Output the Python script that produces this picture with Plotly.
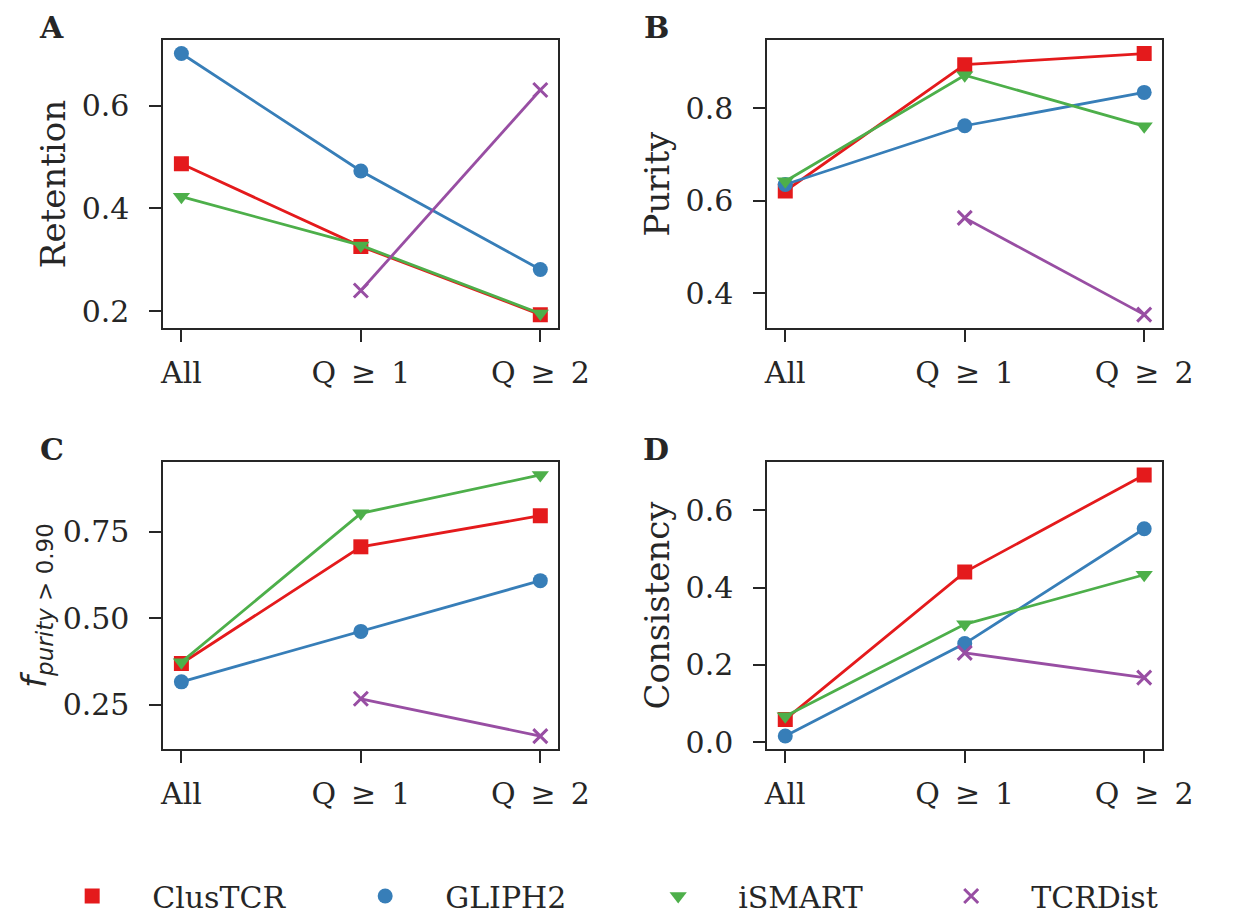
import plotly.graph_objects as go

categories = ["All", "Q\u2002≥\u20021", "Q\u2002≥\u20022"]
methods = ["ClusTCR", "GLIPH2", "iSMART", "TCRDist"]

retention_clustcr = [0.487, 0.326, 0.193]
retention_gliph2 = [0.702, 0.473, 0.281]
retention_ismart = [0.423, 0.328, 0.195]
retention_tcrdist = [None, 0.240, 0.631]

purity_clustcr = [0.621, 0.894, 0.918]
purity_gliph2 = [0.635, 0.762, 0.834]
purity_ismart = [0.642, 0.871, 0.761]
purity_tcrdist = [None, 0.563, 0.354]

fpur_clustcr = [0.369, 0.707, 0.797]
fpur_gliph2 = [0.316, 0.462, 0.609]
fpur_ismart = [0.373, 0.804, 0.915]
fpur_tcrdist = [None, 0.267, 0.159]

cons_clustcr = [0.059, 0.440, 0.691]
cons_gliph2 = [0.016, 0.255, 0.552]
cons_ismart = [0.067, 0.305, 0.433]
cons_tcrdist = [None, 0.231, 0.167]

ticks_A = [0.2, 0.4, 0.6]
ticks_B = [0.4, 0.6, 0.8]
ticks_C = [0.25, 0.50, 0.75]
ticks_D = [0.0, 0.2, 0.4, 0.6]

colors = {"ClusTCR": "#e41a1c", "GLIPH2": "#377eb8", "iSMART": "#4daf4a", "TCRDist": "#984ea3"}
symbols = {"ClusTCR": "square", "GLIPH2": "circle", "iSMART": "triangle-down", "TCRDist": "x-thin"}
sizes = {"ClusTCR": 15, "GLIPH2": 15, "iSMART": 15, "TCRDist": 14}

panels = [
    ("A", "Retention", [retention_clustcr, retention_gliph2, retention_ismart, retention_tcrdist], ticks_A, ".1f"),
    ("B", "Purity", [purity_clustcr, purity_gliph2, purity_ismart, purity_tcrdist], ticks_B, ".1f"),
    ("C", "<i>f</i><sub><span style='font-size:23px'><i>purity</i> > 0.90</span></sub>",
     [fpur_clustcr, fpur_gliph2, fpur_ismart, fpur_tcrdist], ticks_C, ".2f"),
    ("D", "Consistency", [cons_clustcr, cons_gliph2, cons_ismart, cons_tcrdist], ticks_D, ".1f"),
]

W, H = 1233, 922
# pixel boxes (left, right, top, bottom)
boxes = [(165, 571, 41, 332), (786, 1192, 41, 332), (165, 571, 468, 759), (786, 1192, 468, 759)]

FONT = "DejaVu Serif"
TXT = "#262626"
fig = go.Figure()
layout = dict(
    width=W, height=H, margin=dict(l=0, r=0, t=0, b=0),
    paper_bgcolor="white", plot_bgcolor="white",
    font=dict(family=FONT, size=30, color=TXT),
    showlegend=True,
)
annotations = []
xpos = [0, 1, 2]
for i, (lab, ytitle, series, yticks, fmt) in enumerate(panels):
    k = "" if i == 0 else str(i + 1)
    l, r, t, b = boxes[i]
    vals = [v for s in series for v in s if v is not None]
    lo, hi = min(vals), max(vals)
    pad = 0.05 * (hi - lo)
    for m, ys in zip(methods, series):
        fig.add_trace(go.Scatter(
            x=xpos, y=ys, mode="lines+markers", name=m, showlegend=False,
            xaxis="x" + k, yaxis="y" + k,
            line=dict(color=colors[m], width=2.8),
            marker=dict(symbol=symbols[m], size=sizes[m], color=colors[m],
                        line=dict(color=colors[m], width=3 if m == "TCRDist" else 0)),
            connectgaps=False,
        ))
    axis_common = dict(showline=True, linecolor=TXT, linewidth=2, mirror=True,
                       ticks="outside", ticklen=12, tickwidth=2, tickcolor=TXT,
                       showgrid=False, zeroline=False,
                       tickfont=dict(family=FONT, size=30, color=TXT))
    layout["xaxis" + k] = dict(axis_common, domain=[l / W, r / W], anchor="y" + k,
                               range=[-0.1, 2.1], tickvals=xpos, ticktext=categories,
                               ticklabelstandoff=5)
    ytf = dict(family="DejaVu Sans", size=34, color=TXT) if lab == "C" else dict(family=FONT, size=34, color=TXT)
    layout["yaxis" + k] = dict(axis_common, domain=[1 - b / H, 1 - t / H], anchor="x" + k,
                               range=[lo - pad, hi + pad], tickvals=yticks, tickformat=fmt,
                               ticklabelstandoff=14,
                               title=dict(text=ytitle, font=ytf, standoff=6))
    annotations.append(dict(text="<b>%s</b>" % lab, x=(50 if i % 2 == 0 else 672) / W,
                            y=1 - (28 if i < 2 else 455) / H, xref="paper", yref="paper",
                            showarrow=False, font=dict(family=FONT, size=30, color=TXT),
                            xanchor="center", yanchor="middle"))

for m in methods:
    fig.add_trace(go.Scatter(
        x=[None], y=[None], mode="markers", name=m, showlegend=True,
        marker=dict(symbol=symbols[m], size=sizes[m], color=colors[m],
                    line=dict(color=colors[m], width=3 if m == "TCRDist" else 0)),
    ))

layout["legend"] = dict(orientation="h", x=30 / W, xanchor="left", y=14 / H, yanchor="middle",
                        itemwidth=110, entrywidth=168, entrywidthmode="pixels",
                        font=dict(family=FONT, size=30, color=TXT), bgcolor="rgba(0,0,0,0)")
layout["annotations"] = annotations
fig.update_layout(**layout)
fig.write_html("out.html")
